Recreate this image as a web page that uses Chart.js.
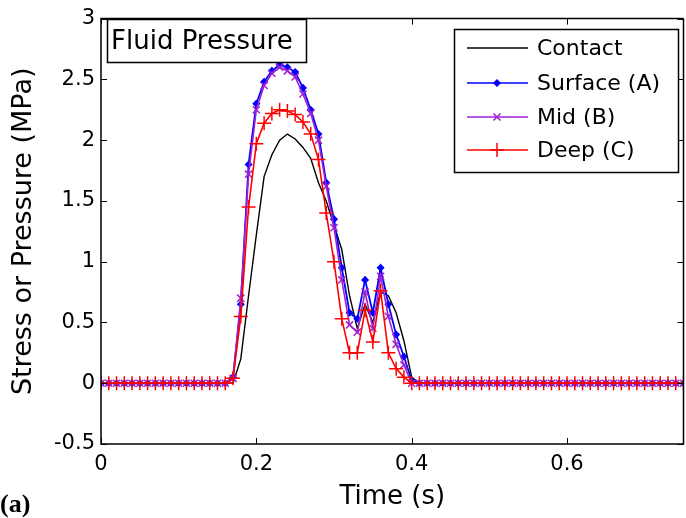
<!DOCTYPE html>
<html>
<head>
<meta charset="utf-8">
<script src="https://cdn.jsdelivr.net/npm/chart.js@4.4.1/dist/chart.umd.min.js"></script>
<style>
  body { margin: 0; background: #fff; overflow: hidden; }
  #wrap { width: 692px; height: 518px; position: relative; }
</style>
</head>
<body>
<div id="wrap"><canvas id="myChart" width="692" height="518"></canvas></div>
<script>
// time axis (s), sampled every 0.01 s
var time = [0,0.01,0.02,0.03,0.04,0.05,0.06,0.07,0.08,0.09,0.10,0.11,0.12,0.13,0.14,0.15,0.16,
  0.17,0.18,0.19,0.20,0.21,0.22,0.23,0.24,0.25,0.26,0.27,0.28,0.29,0.30,0.31,0.32,0.33,0.34,0.35,0.36,0.37,0.38,0.39,0.40,
  0.41,0.42,0.43,0.44,0.45,0.46,0.47,0.48,0.49,0.50,0.51,0.52,0.53,0.54,0.55,0.56,0.57,0.58,0.59,0.60,
  0.61,0.62,0.63,0.64,0.65,0.66,0.67,0.68,0.69,0.70,0.71,0.72,0.73,0.74,0.75];

// stress / pressure (MPa)
var contact = [0,0,0,0,0,0,0,0,0,0,0,0,0,0,0,0,0,
  0,0.20,0.72,1.22,1.70,1.88,2.00,2.05,2.01,1.94,1.85,1.65,1.50,1.30,1.10,0.72,0.45,0.65,0.50,0.75,0.72,0.58,0.35,0.05,
  0,0,0,0,0,0,0,0,0,0,0,0,0,0,0,0,0,0,0,0,0,0,0,0,0,0,0,0,0,0,0,0,0,0,0];
var surface = [0,0,0,0,0,0,0,0,0,0,0,0,0,0,0,0,0,
  0.05,0.65,1.80,2.30,2.48,2.57,2.62,2.60,2.56,2.43,2.25,2.05,1.65,1.35,0.95,0.58,0.53,0.85,0.58,0.95,0.65,0.40,0.22,0.02,
  0,0,0,0,0,0,0,0,0,0,0,0,0,0,0,0,0,0,0,0,0,0,0,0,0,0,0,0,0,0,0,0,0,0,0];
var mid = [0,0,0,0,0,0,0,0,0,0,0,0,0,0,0,0,0,
  0.04,0.70,1.72,2.25,2.45,2.55,2.60,2.57,2.52,2.38,2.22,2.00,1.62,1.28,0.85,0.48,0.42,0.75,0.45,0.88,0.55,0.32,0.15,0,
  0,0,0,0,0,0,0,0,0,0,0,0,0,0,0,0,0,0,0,0,0,0,0,0,0,0,0,0,0,0,0,0,0,0,0];
var deep = [0,0,0,0,0,0,0,0,0,0,0,0,0,0,0,0,0,
  0.04,0.55,1.45,1.97,2.14,2.22,2.25,2.24,2.21,2.15,2.05,1.84,1.40,1.00,0.53,0.25,0.25,0.60,0.34,0.76,0.25,0.12,0.05,0,
  0,0,0,0,0,0,0,0,0,0,0,0,0,0,0,0,0,0,0,0,0,0,0,0,0,0,0,0,0,0,0,0,0,0,0];

var xTicks = [0, 0.2, 0.4, 0.6];
var yTicks = [-0.5, 0, 0.5, 1, 1.5, 2, 2.5, 3];
var seriesNames = ["Contact", "Surface (A)", "Mid (B)", "Deep (C)"];
var boxLabel = "Fluid Pressure";

var FONT = "'DejaVu Sans', sans-serif";

function pts(vals) {
  return time.map(function (t, i) { return { x: t, y: vals[i] }; });
}

var styles = [
  { color: "#000000", point: false, width: 1.4 },
  { color: "#0000ff", point: "rectRot", radius: 3, width: 1.8 },
  { color: "#a020d0", point: "crossRot", radius: 5, width: 1.6 },
  { color: "#ff0000", point: "cross", radius: 7, width: 1.6 }
];

// MATLAB style box, inward ticks, text box and legend
var extras = {
  id: 'extras',
  afterDatasetsDraw: function (chart) {
    var ctx = chart.ctx, a = chart.chartArea;
    var xs = chart.scales.x, ys = chart.scales.y;
    ctx.save();
    ctx.strokeStyle = "#000";
    ctx.lineWidth = 1.5;
    ctx.beginPath();
    ctx.moveTo(a.right, a.top); ctx.lineTo(a.left, a.top);
    ctx.lineTo(a.left, a.bottom); ctx.lineTo(a.right, a.bottom);
    ctx.lineTo(a.right, a.top);
    ctx.stroke();
    ctx.lineWidth = 1;
    ctx.beginPath();
    xTicks.forEach(function (v) {
      var px = Math.round(xs.getPixelForValue(v)) + 0.5;
      ctx.moveTo(px, a.bottom); ctx.lineTo(px, a.bottom - 6);
      ctx.moveTo(px, a.top); ctx.lineTo(px, a.top + 6);
    });
    yTicks.forEach(function (v) {
      var py = Math.round(ys.getPixelForValue(v)) + 0.5;
      ctx.moveTo(a.left, py); ctx.lineTo(a.left + 6, py);
      ctx.moveTo(a.right, py); ctx.lineTo(a.right - 6, py);
    });
    ctx.stroke();

    // text box
    ctx.fillStyle = "#fff";
    ctx.fillRect(107, 19, 199, 43);
    ctx.lineWidth = 1.5;
    ctx.strokeRect(107.5, 19.5, 199, 43);
    ctx.fillStyle = "#000";
    ctx.font = "26px " + FONT;
    ctx.textBaseline = "middle";
    ctx.textAlign = "left";
    ctx.fillText(boxLabel, 111, 42);

    // legend
    ctx.fillStyle = "#fff";
    ctx.fillRect(454, 29, 224, 143);
    ctx.strokeRect(454.5, 29.5, 224, 143);
    ctx.font = "22px " + FONT;
    var rows = [48, 83, 117, 150];
    seriesNames.forEach(function (name, i) {
      var st = styles[i], y = rows[i];
      ctx.strokeStyle = st.color;
      ctx.lineWidth = 1.5;
      ctx.beginPath(); ctx.moveTo(467, y); ctx.lineTo(528, y); ctx.stroke();
      if (st.point) {
        Chart.helpers.drawPoint(ctx, { pointStyle: st.point, radius: st.radius, borderWidth: 1 }, 497, y);
        if (st.point === "rectRot") { ctx.fillStyle = st.color; ctx.fill(); }
      }
      ctx.fillStyle = "#000";
      ctx.fillText(name, 537, y + 1);
    });
    ctx.restore();
  }
};

var ctx = document.getElementById("myChart");
var myChart = new Chart(ctx, {
  type: 'line',
  data: {
    datasets: [contact, surface, mid, deep].map(function (vals, i) {
      var st = styles[i];
      return {
        label: seriesNames[i],
        data: pts(vals),
        borderColor: st.color,
        backgroundColor: st.color,
        borderWidth: st.width,
        pointStyle: st.point || 'circle',
        pointRadius: st.point ? st.radius : 0,
        pointBorderWidth: 1.5,
        pointBorderColor: st.color,
        pointBackgroundColor: st.color,
        tension: 0,
        fill: false,
        order: 4 - i
      };
    })
  },
  options: {
    responsive: false,
    animation: false,
    layout: { padding: { top: 17, right: 2, left: 0, bottom: 0 } },
    plugins: { legend: { display: false }, tooltip: { enabled: false } },
    scales: {
      x: {
        type: 'linear', min: 0, max: 0.75,
        afterBuildTicks: function (s) { s.ticks = xTicks.map(function (v) { return { value: v }; }); },
        afterFit: function (s) { s.height = 74; },
        grid: { display: false, drawTicks: false },
        border: { display: false },
        ticks: { color: "#000", font: { family: FONT, size: 21 }, padding: 8, maxRotation: 0,
          callback: function (v) { return String(v); } },
        title: { display: true, text: "Time (s)", color: "#000", font: { family: FONT, size: 26 },
          padding: { top: 0, bottom: 5 } }
      },
      y: {
        min: -0.5, max: 3,
        afterBuildTicks: function (s) { s.ticks = yTicks.map(function (v) { return { value: v }; }); },
        afterFit: function (s) { s.width = 101; },
        grid: { display: false, drawTicks: false },
        border: { display: false },
        ticks: { color: "#000", font: { family: FONT, size: 21 }, padding: 6,
          callback: function (v) { return String(v); } },
        title: { display: true, text: "Stress or Pressure (MPa)", color: "#000", font: { family: FONT, size: 27 },
          padding: { top: 8, bottom: 0 } }
      }
    }
  },
  plugins: [extras, {
    id: 'label-a',
    afterDraw: function (chart) {
      var c = chart.ctx;
      c.save();
      c.fillStyle = "#000";
      c.font = "bold 26px 'Liberation Serif', serif";
      c.textBaseline = "middle";
      c.fillText("(a)", 0, 505);
      c.restore();
    }
  }]
});
</script>
</body>
</html>
